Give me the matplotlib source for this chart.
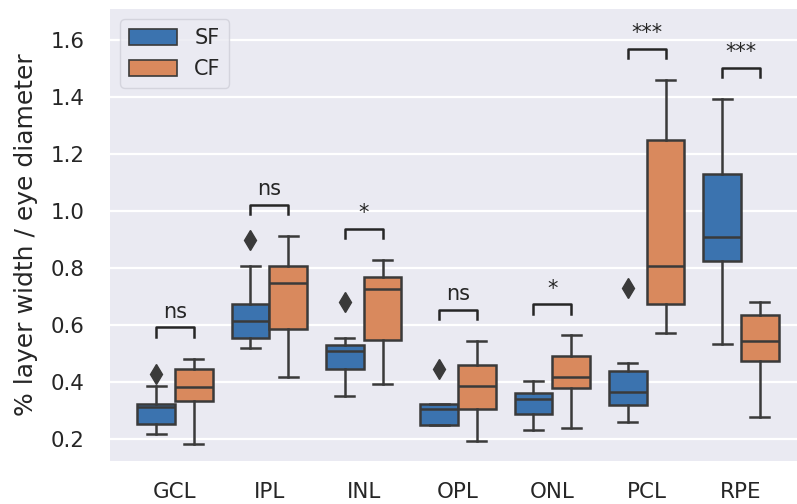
import matplotlib
matplotlib.use("Agg")
import matplotlib.pyplot as plt
from matplotlib.patches import Patch

layers = ["GCL", "IPL", "INL", "OPL", "ONL", "PCL", "RPE"]
groups = ["SF", "CF"]
colors = ["#3b73af", "#d9895d"]

# box summaries (whisker low, q1, median, q3, whisker high)
sf_whislo = [0.219, 0.520, 0.351, 0.249, 0.232, 0.262, 0.533]
sf_q1 = [0.255, 0.556, 0.445, 0.249, 0.290, 0.319, 0.825]
sf_med = [0.312, 0.615, 0.508, 0.305, 0.340, 0.366, 0.909]
sf_q3 = [0.325, 0.676, 0.530, 0.325, 0.363, 0.440, 1.131]
sf_whishi = [0.386, 0.807, 0.556, 0.325, 0.404, 0.469, 1.394]
sf_fliers = [[0.428], [0.898], [0.682], [0.448], [], [0.729], []]

cf_whislo = [0.184, 0.418, 0.395, 0.195, 0.241, 0.571, 0.278]
cf_q1 = [0.334, 0.585, 0.547, 0.306, 0.381, 0.674, 0.476]
cf_med = [0.382, 0.748, 0.726, 0.387, 0.419, 0.808, 0.544]
cf_q3 = [0.448, 0.808, 0.770, 0.462, 0.491, 1.249, 0.637]
cf_whishi = [0.483, 0.912, 0.828, 0.544, 0.564, 1.460, 0.680]
cf_fliers = [[], [], [], [], [], [], []]

significance = ["ns", "ns", "*", "ns", "*", "***", "***"]


def make_stats(lo, q1, med, q3, hi, fl):
    stats = []
    for i in range(len(lo)):
        stats.append({"whislo": lo[i], "q1": q1[i], "med": med[i],
                      "q3": q3[i], "whishi": hi[i], "fliers": fl[i]})
    return stats


all_stats = [make_stats(sf_whislo, sf_q1, sf_med, sf_q3, sf_whishi, sf_fliers),
             make_stats(cf_whislo, cf_q1, cf_med, cf_q3, cf_whishi, cf_fliers)]

plt.rcParams["font.family"] = "DejaVu Sans"
fig = plt.figure(figsize=(7.97, 5.04), dpi=100)
ax = fig.add_axes([0.138, 0.085, 0.862, 0.897])
ax.set_facecolor("#eaeaf2")
for s in ax.spines.values():
    s.set_visible(False)

edge = "#3a3a3a"
lw = 1.8
width = 0.4
offsets = [-0.2, 0.2]
for g in range(len(groups)):
    pos = [i + offsets[g] for i in range(len(layers))]
    ax.bxp(all_stats[g], positions=pos, widths=width, patch_artist=True,
           boxprops=dict(facecolor=colors[g], edgecolor=edge, linewidth=lw),
           medianprops=dict(color=edge, linewidth=lw),
           whiskerprops=dict(color=edge, linewidth=lw),
           capprops=dict(color=edge, linewidth=lw),
           capwidths=width / 2,
           flierprops=dict(marker="d", markerfacecolor=edge, markeredgecolor=edge,
                           markersize=10),
           manage_ticks=False, zorder=3)

# significance brackets above the highest point of each pair
for i in range(len(layers)):
    top = max(sf_whishi[i], cf_whishi[i], *(sf_fliers[i] + cf_fliers[i]))
    y0 = top + 0.077
    y1 = top + 0.11
    ax.plot([i - 0.2, i - 0.2, i + 0.2, i + 0.2], [y0, y1, y1, y0],
            color="#262626", lw=lw, zorder=4)
    ax.annotate(significance[i], xy=(i, y1), xytext=(0, 4), textcoords="offset points",
                ha="center", va="bottom", fontsize=15, color="#262626")

ax.set_xlim(-0.689, 6.594)
ax.set_ylim(0.123, 1.709)
ax.set_xticks(range(len(layers)))
ax.set_xticklabels(layers)
ax.set_yticks([0.2, 0.4, 0.6, 0.8, 1.0, 1.2, 1.4, 1.6])
ax.tick_params(axis="both", length=0, labelsize=15.4, colors="#262626")
ax.tick_params(axis="y", pad=18)
ax.tick_params(axis="x", pad=15)
ax.yaxis.grid(True, color="white", linewidth=1.6, zorder=0)
ax.xaxis.grid(False)
ax.set_axisbelow(True)
ax.set_ylabel("% layer width / eye diameter", fontsize=18, color="#262626", labelpad=9)

handles = [Patch(facecolor=colors[g], edgecolor=edge, linewidth=1.2, label=groups[g])
           for g in range(len(groups))]
leg = ax.legend(handles=handles, loc="upper left", fontsize=15, handlelength=2.3,
                handleheight=0.8, handletextpad=0.85, labelspacing=0.55,
                borderaxespad=0.5, fancybox=True, framealpha=0.8)
leg.get_frame().set_facecolor("#eaeaf2")
leg.get_frame().set_edgecolor("#cfcfd8")
for t in leg.get_texts():
    t.set_color("#262626")

fig.savefig("out.png", dpi=100)
